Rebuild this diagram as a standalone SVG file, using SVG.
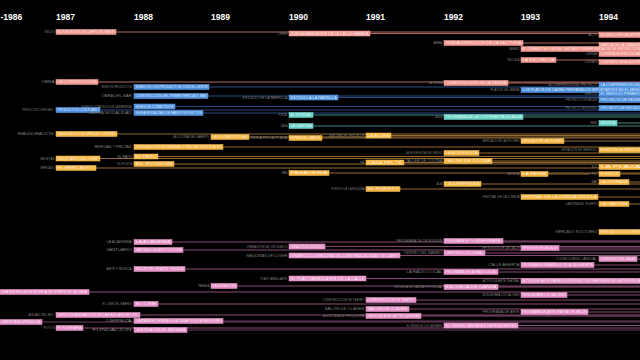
<svg xmlns="http://www.w3.org/2000/svg" width="640" height="360" viewBox="0 0 640 360">
<style>
.yr{font-family:"Liberation Sans",Arial,sans-serif;font-weight:bold;font-size:8.5px;fill:#fff}
.t{font-family:"Liberation Sans",Arial,sans-serif;font-size:3.2px;fill:#fff;fill-opacity:.85}
.lb{font-family:"Liberation Sans",Arial,sans-serif;font-size:2.6px;fill:#808080;text-anchor:end}
.bS{fill:#f2928a;stroke:#f8b4ac;stroke-width:.5}
.bB{fill:#4a8fe0;stroke:#6aa8ee;stroke-width:.5}
.bT{fill:#62d2c6;stroke:#8ae4da;stroke-width:.5}
.bO{fill:#f7b23b;stroke:#fcc866;stroke-width:.5}
.bP{fill:#e68cc6;stroke:#f0aad6;stroke-width:.5}
.lS{stroke:#b06660;stroke-width:1}
.lB{stroke:#284a82;stroke-width:1}
.lT{stroke:#3e8a85;stroke-width:1}
.lO{stroke:#946a32;stroke-width:1}
.lP{stroke:#884b75;stroke-width:1}
</style>
<rect width="640" height="360" fill="#000"/>
<g id="years">
<text class="yr" x="0.5" y="20">-1986</text>
<text class="yr" x="56" y="20">1987</text>
<text class="yr" x="134" y="20">1988</text>
<text class="yr" x="211" y="20">1989</text>
<text class="yr" x="289" y="20">1990</text>
<text class="yr" x="366" y="20">1991</text>
<text class="yr" x="444" y="20">1992</text>
<text class="yr" x="521" y="20">1993</text>
<text class="yr" x="599" y="20">1994</text>
</g>
<g id="connectors">
<line class="lS" x1="116" y1="32" x2="640" y2="32"/>
<line class="lS" x1="370" y1="33.5" x2="640" y2="33.5"/>
<line class="lS" x1="523" y1="43" x2="599" y2="43"/>
<line class="lS" x1="556" y1="60" x2="599" y2="60"/>
<line class="lS" x1="98" y1="82" x2="640" y2="82"/>
<line class="lS" x1="508" y1="83" x2="640" y2="83"/>
<line class="lB" x1="209" y1="87" x2="640" y2="87"/>
<line class="lB" x1="208" y1="96" x2="640" y2="96"/>
<line class="lB" x1="338" y1="97.5" x2="640" y2="97.5"/>
<line class="lB" x1="175" y1="106.5" x2="640" y2="106.5"/>
<line class="lB" x1="100" y1="110" x2="640" y2="110"/>
<line class="lB" x1="203" y1="113" x2="640" y2="113"/>
<line class="lT" x1="313" y1="115" x2="640" y2="115"/>
<line class="lT" x1="523" y1="117" x2="640" y2="117"/>
<line class="lT" x1="313" y1="126" x2="640" y2="126"/>
<line class="lT" x1="617" y1="123" x2="640" y2="123"/>
<line class="lO" x1="117" y1="134" x2="640" y2="134" stroke-width="1.6"/>
<line class="lO" x1="391" y1="135.5" x2="640" y2="135.5"/>
<line class="lO" x1="249" y1="137" x2="640" y2="137"/>
<line class="lO" x1="322" y1="138" x2="640" y2="138"/>
<line class="lO" x1="564" y1="141" x2="640" y2="141"/>
<line class="lO" x1="223" y1="147" x2="640" y2="147"/>
<line class="lO" x1="479" y1="153" x2="640" y2="153"/>
<line class="lO" x1="158" y1="156.5" x2="640" y2="156.5"/>
<line class="lO" x1="100" y1="158.5" x2="640" y2="158.5"/>
<line class="lO" x1="492" y1="161" x2="640" y2="161"/>
<line class="lO" x1="404" y1="162.5" x2="640" y2="162.5"/>
<line class="lO" x1="174" y1="164" x2="640" y2="164"/>
<line class="lO" x1="96" y1="168" x2="640" y2="168"/>
<line class="lO" x1="329" y1="173" x2="640" y2="173"/>
<line class="lO" x1="548" y1="174" x2="590" y2="174"/>
<line class="lO" x1="620" y1="174" x2="640" y2="174"/>
<line class="lO" x1="629" y1="182" x2="640" y2="182"/>
<line class="lO" x1="481" y1="184" x2="640" y2="184"/>
<line class="lO" x1="400" y1="189" x2="640" y2="189"/>
<line class="lO" x1="598" y1="197" x2="640" y2="197"/>
<line class="lO" x1="629" y1="204" x2="640" y2="204"/>
<line class="lP" x1="503" y1="241" x2="640" y2="241"/>
<line class="lP" x1="172" y1="242" x2="640" y2="242"/>
<line class="lP" x1="325" y1="246.5" x2="640" y2="246.5"/>
<line class="lP" x1="559" y1="248" x2="640" y2="248"/>
<line class="lP" x1="183" y1="250" x2="640" y2="250"/>
<line class="lP" x1="485" y1="253" x2="640" y2="253"/>
<line class="lP" x1="400" y1="255.5" x2="640" y2="255.5"/>
<line class="lP" x1="637" y1="259" x2="640" y2="259"/>
<line class="lP" x1="594" y1="265" x2="640" y2="265"/>
<line class="lP" x1="185" y1="269" x2="640" y2="269"/>
<line class="lP" x1="498" y1="272" x2="640" y2="272"/>
<line class="lP" x1="366" y1="278.5" x2="640" y2="278.5"/>
<line class="lP" x1="237" y1="286" x2="640" y2="286"/>
<line class="lP" x1="498" y1="287" x2="640" y2="287"/>
<line class="lP" x1="89" y1="292" x2="640" y2="292"/>
<line class="lP" x1="567" y1="295" x2="640" y2="295"/>
<line class="lP" x1="416" y1="300" x2="640" y2="300"/>
<line class="lP" x1="158" y1="304" x2="640" y2="304"/>
<line class="lP" x1="409" y1="309" x2="640" y2="309"/>
<line class="lP" x1="588" y1="312" x2="640" y2="312"/>
<line class="lP" x1="140" y1="315" x2="640" y2="315"/>
<line class="lP" x1="421" y1="316" x2="640" y2="316"/>
<line class="lP" x1="223" y1="321" x2="640" y2="321" stroke-width="1.6" stroke-opacity=".8"/>
<line class="lP" x1="42" y1="322" x2="640" y2="322" stroke-width="1.6" stroke-opacity=".8"/>
<line class="lP" x1="518" y1="325.5" x2="640" y2="325.5"/>
<line class="lP" x1="83" y1="328" x2="640" y2="328"/>
<line class="lP" x1="187" y1="330" x2="640" y2="330" stroke-width="1.6" stroke-opacity=".8"/>
</g>
<g id="n1"><text class="lb" x="54.5" y="33" lengthAdjust="spacingAndGlyphs" textLength="10">INICIO</text><rect class="bS" x="56" y="29.5" width="60" height="5"/><text class="t" x="57.5" y="33.1" lengthAdjust="spacingAndGlyphs" textLength="57">AUTORIZACIÓN DEL CAFÉ CON SABOR</text></g>
<g id="n2"><text class="lb" x="287.5" y="34.5" lengthAdjust="spacingAndGlyphs" textLength="10">CIERRE</text><rect class="bS" x="289" y="31" width="81" height="5"/><text class="t" x="290.5" y="34.6" lengthAdjust="spacingAndGlyphs" textLength="78">RUEDA MANDARINE DE LA CALLE HABANA</text></g>
<g id="n3"><text class="lb" x="597.5" y="36" lengthAdjust="spacingAndGlyphs" textLength="9">ACTO</text><rect class="bS" x="599" y="32.5" width="41" height="5"/><text class="t" x="600.5" y="36.1" lengthAdjust="spacingAndGlyphs" textLength="40">ACUERDO DE LAS ARTES</text></g>
<g id="n4"><text class="lb" x="442.5" y="44" lengthAdjust="spacingAndGlyphs" textLength="9">ABRE</text><rect class="bS" x="444" y="40.5" width="79" height="5"/><text class="t" x="445.5" y="44.1" lengthAdjust="spacingAndGlyphs" textLength="76">NUEVA DIRECCIÓN DE LA FACTORÍA</text></g>
<g id="n5"><rect class="bS" x="599" y="42.5" width="41" height="5"/><text class="t" x="600.5" y="46.1" lengthAdjust="spacingAndGlyphs" textLength="40">MARCA DE LA CASA EN</text></g>
<g id="n6"><text class="lb" x="519.5" y="50" lengthAdjust="spacingAndGlyphs" textLength="11">CAMBIO</text><rect class="bS" x="521" y="46.5" width="119" height="5"/><text class="t" x="522.5" y="50.1" lengthAdjust="spacingAndGlyphs" textLength="118">EL CUBANO SE VUELVE CERCANO PRIMER ESCALÓN DE PRODUCCIÓN</text></g>
<g id="n7"><text class="lb" x="597.5" y="55" lengthAdjust="spacingAndGlyphs" textLength="12">CUENTAS</text><rect class="bS" x="599" y="51.5" width="41" height="5"/><text class="t" x="600.5" y="55.1" lengthAdjust="spacingAndGlyphs" textLength="40">CUENTA DE ESCUELAS</text></g>
<g id="n8"><text class="lb" x="519.5" y="61" lengthAdjust="spacingAndGlyphs" textLength="12">ESCUELA</text><rect class="bS" x="521" y="57.5" width="35" height="5"/><text class="t" x="522.5" y="61.1" lengthAdjust="spacingAndGlyphs" textLength="32">LA ESCUELITA</text></g>
<g id="n9"><text class="lb" x="597.5" y="63" lengthAdjust="spacingAndGlyphs" textLength="13">CONTRATO</text><rect class="bS" x="599" y="59.5" width="41" height="5"/><text class="t" x="600.5" y="63.1" lengthAdjust="spacingAndGlyphs" textLength="40">CONTRATO DE ALQUILER</text></g>
<g id="n10"><text class="lb" x="54.5" y="83" lengthAdjust="spacingAndGlyphs" textLength="13">OBRA</text><rect class="bS" x="56" y="79.5" width="42" height="5"/><text class="t" x="57.5" y="83.1" lengthAdjust="spacingAndGlyphs" textLength="39">LA CONSTRUCCIÓN</text></g>
<g id="n11"><text class="lb" x="442.5" y="84" lengthAdjust="spacingAndGlyphs" textLength="14">LA TIENDA</text><rect class="bS" x="444" y="80.5" width="64" height="5"/><text class="t" x="445.5" y="84.1" lengthAdjust="spacingAndGlyphs" textLength="61">CONSTRUCCIÓN DE LA TIENDA</text></g>
<g id="n12"><text class="lb" x="597.5" y="86" lengthAdjust="spacingAndGlyphs" textLength="50">LA COMPRENSIÓN DEL PROYECTO</text><rect class="bB" x="599" y="82.5" width="41" height="5"/><text class="t" x="600.5" y="86.1" lengthAdjust="spacingAndGlyphs" textLength="40">LA COMPRENSIÓN DEL</text></g>
<g id="n13"><text class="lb" x="131.5" y="88" lengthAdjust="spacingAndGlyphs" textLength="30">NUEVOS PRODUCTOS</text><rect class="bB" x="134" y="84.5" width="75" height="5"/><text class="t" x="135.5" y="88.1" lengthAdjust="spacingAndGlyphs" textLength="72">NUEVOS LOS PRODUCTOS CON EL LENTE</text></g>
<g id="n14"><text class="lb" x="519.5" y="91" lengthAdjust="spacingAndGlyphs" textLength="29">PLATOS DE CARNE</text><rect class="bB" x="521" y="87.5" width="119" height="5"/><text class="t" x="522.5" y="91.1" lengthAdjust="spacingAndGlyphs" textLength="118">LOS PLATOS DE CARNE PREPARADOS IMPORTANTES EN EL MENÚ</text></g>
<g id="n15"><text class="lb" x="597.5" y="95" lengthAdjust="spacingAndGlyphs" textLength="13">SERVICIO</text><rect class="bB" x="599" y="91.5" width="41" height="5"/><text class="t" x="600.5" y="95.1" lengthAdjust="spacingAndGlyphs" textLength="40">EL SERVICIO PRIMERO</text></g>
<g id="n16"><text class="lb" x="131.5" y="97" lengthAdjust="spacingAndGlyphs" textLength="30">OBRA DEL BAR</text><rect class="bB" x="134" y="93.5" width="74" height="5"/><text class="t" x="135.5" y="97.1" lengthAdjust="spacingAndGlyphs" textLength="71">CONSTRUCCIÓN DEL PRIMER MERCADO BAR</text></g>
<g id="n17"><text class="lb" x="287.5" y="98.5" lengthAdjust="spacingAndGlyphs" textLength="45">ESTUDIO DE LA PARRILLA</text><rect class="bB" x="289" y="95" width="49" height="5"/><text class="t" x="290.5" y="98.6" lengthAdjust="spacingAndGlyphs" textLength="46">ESTUDIO A LA PARRILLA</text></g>
<g id="n18"><text class="lb" x="597.5" y="101" lengthAdjust="spacingAndGlyphs" textLength="32">PROYECTO DE REDES</text><rect class="bB" x="599" y="97.5" width="41" height="5"/><text class="t" x="600.5" y="101.1" lengthAdjust="spacingAndGlyphs" textLength="40">PROYECTO DE REDES</text></g>
<g id="n19"><text class="lb" x="131.5" y="107.5" lengthAdjust="spacingAndGlyphs" textLength="50">NUEVOS COMETIDOS DE LA EMPRESA</text><rect class="bB" x="134" y="104" width="41" height="5"/><text class="t" x="135.5" y="107.6" lengthAdjust="spacingAndGlyphs" textLength="38">NUEVOS COMETIDOS</text></g>
<g id="n20"><text class="lb" x="597.5" y="109" lengthAdjust="spacingAndGlyphs" textLength="32">PROYECTO DE ESTUDIO</text><rect class="bB" x="599" y="105.5" width="41" height="5"/><text class="t" x="600.5" y="109.1" lengthAdjust="spacingAndGlyphs" textLength="40">PROYECTO DE ESTUDIO</text></g>
<g id="n21"><text class="lb" x="53.5" y="111" lengthAdjust="spacingAndGlyphs" textLength="31">PRODUCTOS CON PLANO</text><rect class="bB" x="56" y="107.5" width="44" height="5"/><text class="t" x="57.5" y="111.1" lengthAdjust="spacingAndGlyphs" textLength="41">PRODUCTOS CON PLANO</text></g>
<g id="n22"><text class="lb" x="131.5" y="114" lengthAdjust="spacingAndGlyphs" textLength="43">NUEVA MODALIDAD</text><rect class="bB" x="134" y="110.5" width="69" height="5"/><text class="t" x="135.5" y="114.1" lengthAdjust="spacingAndGlyphs" textLength="66">NUEVA MODALIDAD DE SABOR PRODUCTOS</text></g>
<g id="n23"><text class="lb" x="287.5" y="116" lengthAdjust="spacingAndGlyphs" textLength="9">PORTAL</text><rect class="bT" x="289" y="112.5" width="24" height="5"/><text class="t" x="290.5" y="116.1" lengthAdjust="spacingAndGlyphs" textLength="21">EL PORTAL</text></g>
<g id="n24"><text class="lb" x="442.5" y="118" lengthAdjust="spacingAndGlyphs" textLength="7">AGUA</text><rect class="bT" x="444" y="114.5" width="79" height="5"/><text class="t" x="445.5" y="118.1" lengthAdjust="spacingAndGlyphs" textLength="76">PROGRAMA DE LA COOPERATIVA DE AGUA</text></g>
<g id="n25"><text class="lb" x="287.5" y="127" lengthAdjust="spacingAndGlyphs" textLength="7">CASA</text><rect class="bT" x="289" y="123.5" width="24" height="5"/><text class="t" x="290.5" y="127.1" lengthAdjust="spacingAndGlyphs" textLength="21">LA CASONA</text></g>
<g id="n26"><text class="lb" x="597.5" y="124" lengthAdjust="spacingAndGlyphs" textLength="7">RED</text><rect class="bT" x="599" y="120.5" width="18" height="5"/><text class="t" x="600.5" y="124.1" lengthAdjust="spacingAndGlyphs" textLength="15">REVISTA</text></g>
<g id="n27"><text class="lb" x="53.5" y="135" lengthAdjust="spacingAndGlyphs" textLength="36">INAUGURACIÓN</text><rect class="bO" x="56" y="131.5" width="61" height="5"/><text class="t" x="57.5" y="135.1" lengthAdjust="spacingAndGlyphs" textLength="58">INAUGURACIÓN DEL MERCADO CENTRAL</text></g>
<g id="n28"><text class="lb" x="208.5" y="138" lengthAdjust="spacingAndGlyphs" textLength="36">LA COCINA DEL BARRIO</text><rect class="bO" x="211" y="134.5" width="38" height="5"/><text class="t" x="212.5" y="138.1" lengthAdjust="spacingAndGlyphs" textLength="35">LA COCINA POPULAR</text></g>
<g id="n29"><text class="lb" x="287.5" y="139" lengthAdjust="spacingAndGlyphs" textLength="37">FERIA EN LA PLAZA</text><rect class="bO" x="289" y="135.5" width="33" height="5"/><text class="t" x="290.5" y="139.1" lengthAdjust="spacingAndGlyphs" textLength="30">FERIA DEL SABOR</text></g>
<g id="n30"><text class="lb" x="364.5" y="136.5" lengthAdjust="spacingAndGlyphs" textLength="36">LA ALDEA DEL PESCADOR</text><rect class="bO" x="366" y="133" width="25" height="5"/><text class="t" x="367.5" y="136.6" lengthAdjust="spacingAndGlyphs" textLength="22">LA ALDEA</text></g>
<g id="n31"><text class="lb" x="519.5" y="142" lengthAdjust="spacingAndGlyphs" textLength="37">MERCADO DE LAS FLORES</text><rect class="bO" x="521" y="138.5" width="43" height="5"/><text class="t" x="522.5" y="142.1" lengthAdjust="spacingAndGlyphs" textLength="40">MERCADO DE LAS FLORES</text></g>
<g id="n32"><text class="lb" x="131.5" y="148" lengthAdjust="spacingAndGlyphs" textLength="37">BEBIDAS Y FRUTAS</text><rect class="bO" x="134" y="144.5" width="89" height="5"/><text class="t" x="135.5" y="148.1" lengthAdjust="spacingAndGlyphs" textLength="86">DISTRIBUCIÓN DE BEBIDAS Y FRUTAS TROPICALES</text></g>
<g id="n33"><text class="lb" x="597.5" y="151" lengthAdjust="spacingAndGlyphs" textLength="36">ESTACIÓN DE SERVICIO</text><rect class="bO" x="599" y="147.5" width="41" height="5"/><text class="t" x="600.5" y="151.1" lengthAdjust="spacingAndGlyphs" textLength="40">ESTACIÓN DE SERVICIO</text></g>
<g id="n34"><text class="lb" x="442.5" y="154" lengthAdjust="spacingAndGlyphs" textLength="37">LA BODEGUITA DEL MEDIO</text><rect class="bO" x="444" y="150.5" width="35" height="5"/><text class="t" x="445.5" y="154.1" lengthAdjust="spacingAndGlyphs" textLength="32">LA BODEGUITA</text></g>
<g id="n35"><text class="lb" x="132.5" y="157.5" lengthAdjust="spacingAndGlyphs" textLength="15">EL PATIO</text><rect class="bO" x="134" y="154" width="24" height="5"/><text class="t" x="135.5" y="157.6" lengthAdjust="spacingAndGlyphs" textLength="21">EL PATIO</text></g>
<g id="n36"><text class="lb" x="54.5" y="159.5" lengthAdjust="spacingAndGlyphs" textLength="14">RECETAS</text><rect class="bO" x="56" y="156" width="44" height="5"/><text class="t" x="57.5" y="159.6" lengthAdjust="spacingAndGlyphs" textLength="41">RECETARIO DEL CHEF</text></g>
<g id="n37"><text class="lb" x="442.5" y="162" lengthAdjust="spacingAndGlyphs" textLength="37">TALLER DE COCINA</text><rect class="bO" x="444" y="158.5" width="48" height="5"/><text class="t" x="445.5" y="162.1" lengthAdjust="spacingAndGlyphs" textLength="45">TALLER DE COCINA</text></g>
<g id="n38"><text class="lb" x="364.5" y="163.5" lengthAdjust="spacingAndGlyphs" textLength="5">TÉ</text><rect class="bO" x="366" y="160" width="38" height="5"/><text class="t" x="367.5" y="163.6" lengthAdjust="spacingAndGlyphs" textLength="35">CASA DEL TÉ</text></g>
<g id="n39"><text class="lb" x="132.5" y="165" lengthAdjust="spacingAndGlyphs" textLength="15">EL FOGÓN</text><rect class="bO" x="134" y="161.5" width="40" height="5"/><text class="t" x="135.5" y="165.1" lengthAdjust="spacingAndGlyphs" textLength="37">EL FOGÓN</text></g>
<g id="n40"><text class="lb" x="597.5" y="168" lengthAdjust="spacingAndGlyphs" textLength="6">SOL</text><rect class="bO" x="599" y="164.5" width="41" height="5"/><text class="t" x="600.5" y="168.1" lengthAdjust="spacingAndGlyphs" textLength="40">LA PLAZA</text></g>
<g id="n41"><text class="lb" x="54.5" y="169" lengthAdjust="spacingAndGlyphs" textLength="14">MERCADO</text><rect class="bO" x="56" y="165.5" width="40" height="5"/><text class="t" x="57.5" y="169.1" lengthAdjust="spacingAndGlyphs" textLength="37">EL MERCADITO</text></g>
<g id="n42"><text class="lb" x="287.5" y="174" lengthAdjust="spacingAndGlyphs" textLength="6">PAN</text><rect class="bO" x="289" y="170.5" width="40" height="5"/><text class="t" x="290.5" y="174.1" lengthAdjust="spacingAndGlyphs" textLength="37">PANADERÍA</text></g>
<g id="n43"><text class="lb" x="519.5" y="175" lengthAdjust="spacingAndGlyphs" textLength="13">LA FERIA</text><rect class="bO" x="521" y="171.5" width="27" height="5"/><text class="t" x="522.5" y="175.1" lengthAdjust="spacingAndGlyphs" textLength="24">LA FERIA</text></g>
<g id="n44"><text class="lb" x="597.5" y="175" lengthAdjust="spacingAndGlyphs" textLength="6">RÍO</text><rect class="bO" x="599" y="171.5" width="21" height="5"/><text class="t" x="600.5" y="175.1" lengthAdjust="spacingAndGlyphs" textLength="18">EL RINCÓN</text></g>
<g id="n45"><text class="lb" x="597.5" y="183" lengthAdjust="spacingAndGlyphs" textLength="6">MAR</text><rect class="bO" x="599" y="179.5" width="30" height="5"/><text class="t" x="600.5" y="183.1" lengthAdjust="spacingAndGlyphs" textLength="27">LA TERRAZA</text></g>
<g id="n46"><text class="lb" x="442.5" y="185" lengthAdjust="spacingAndGlyphs" textLength="6">ALM</text><rect class="bO" x="444" y="181.5" width="37" height="5"/><text class="t" x="445.5" y="185.1" lengthAdjust="spacingAndGlyphs" textLength="34">LA DESPENSA</text></g>
<g id="n47"><text class="lb" x="364.5" y="190" lengthAdjust="spacingAndGlyphs" textLength="33">PUESTO DE LA ESQUINA</text><rect class="bO" x="366" y="186.5" width="34" height="5"/><text class="t" x="367.5" y="190.1" lengthAdjust="spacingAndGlyphs" textLength="31">EL PUESTO</text></g>
<g id="n48"><text class="lb" x="519.5" y="198" lengthAdjust="spacingAndGlyphs" textLength="37">FESTIVAL DE LA COMIDA</text><rect class="bO" x="521" y="194.5" width="77" height="5"/><text class="t" x="522.5" y="198.1" lengthAdjust="spacingAndGlyphs" textLength="74">FESTIVAL DE LA COMIDA CRIOLLA</text></g>
<g id="n49"><text class="lb" x="597.5" y="205" lengthAdjust="spacingAndGlyphs" textLength="32">CANTINA DEL PUERTO</text><rect class="bO" x="599" y="201.5" width="30" height="5"/><text class="t" x="600.5" y="205.1" lengthAdjust="spacingAndGlyphs" textLength="27">LA CANTINA</text></g>
<g id="n50"><text class="lb" x="597.5" y="233" lengthAdjust="spacingAndGlyphs" textLength="42">MERCADO NOCTURNO</text><rect class="bO" x="599" y="229.5" width="41" height="5"/><text class="t" x="600.5" y="233.1" lengthAdjust="spacingAndGlyphs" textLength="40">MERCADO NOCTURNO</text></g>
<g id="n51"><text class="lb" x="442.5" y="242" lengthAdjust="spacingAndGlyphs" textLength="46">PROGRAMA DE TELEVISIÓN</text><rect class="bP" x="444" y="238.5" width="59" height="5"/><text class="t" x="445.5" y="242.1" lengthAdjust="spacingAndGlyphs" textLength="56">PROGRAMA DE TV ORDEN SEMANAL</text></g>
<g id="n52"><text class="lb" x="131.5" y="243" lengthAdjust="spacingAndGlyphs" textLength="25">LA ACADEMIA</text><rect class="bP" x="134" y="239.5" width="38" height="5"/><text class="t" x="135.5" y="243.1" lengthAdjust="spacingAndGlyphs" textLength="35">LA ACADEMIA</text></g>
<g id="n53"><text class="lb" x="287.5" y="247.5" lengthAdjust="spacingAndGlyphs" textLength="41">CREACIÓN DE UN SUELO</text><rect class="bP" x="289" y="244" width="36" height="5"/><text class="t" x="290.5" y="247.6" lengthAdjust="spacingAndGlyphs" textLength="33">CREACIÓN DE UN SUELO</text></g>
<g id="n54"><text class="lb" x="519.5" y="249" lengthAdjust="spacingAndGlyphs" textLength="37">EPISODIOS DE LA CALLE</text><rect class="bP" x="521" y="245.5" width="38" height="5"/><text class="t" x="522.5" y="249.1" lengthAdjust="spacingAndGlyphs" textLength="35">EPISODIOS DE LA CALLE</text></g>
<g id="n55"><text class="lb" x="131.5" y="251" lengthAdjust="spacingAndGlyphs" textLength="25">SANTUARIO</text><rect class="bP" x="134" y="247.5" width="49" height="5"/><text class="t" x="135.5" y="251.1" lengthAdjust="spacingAndGlyphs" textLength="46">SANTUARIO DE ARTE Y CULTURA</text></g>
<g id="n56"><text class="lb" x="442.5" y="254" lengthAdjust="spacingAndGlyphs" textLength="39">CENTRO DEL BARRIO</text><rect class="bP" x="444" y="250.5" width="41" height="5"/><text class="t" x="445.5" y="254.1" lengthAdjust="spacingAndGlyphs" textLength="38">CENTRO CULTURAL</text></g>
<g id="n57"><text class="lb" x="287.5" y="256.5" lengthAdjust="spacingAndGlyphs" textLength="41">MÁQUINAS DE COSER</text><rect class="bP" x="289" y="253" width="111" height="5"/><text class="t" x="290.5" y="256.6" lengthAdjust="spacingAndGlyphs" textLength="108">DESARROLLO DE MÁQUINAS DE COSER PARA LA CIUDAD Y EL CAMPO</text></g>
<g id="n58"><text class="lb" x="597.5" y="260" lengthAdjust="spacingAndGlyphs" textLength="41">CONCURSO ANUAL</text><rect class="bP" x="599" y="256.5" width="38" height="5"/><text class="t" x="600.5" y="260.1" lengthAdjust="spacingAndGlyphs" textLength="35">CONCURSO DEL GALÁN</text></g>
<g id="n59"><text class="lb" x="519.5" y="266" lengthAdjust="spacingAndGlyphs" textLength="31">CALLE ABIERTA</text><rect class="bP" x="521" y="262.5" width="73" height="5"/><text class="t" x="522.5" y="266.1" lengthAdjust="spacingAndGlyphs" textLength="70">PROGRAMA DE DESARROLLO DE LA CALLE ABIERTA</text></g>
<g id="n60"><text class="lb" x="131.5" y="270" lengthAdjust="spacingAndGlyphs" textLength="25">ARTE Y MÚSICA</text><rect class="bP" x="134" y="266.5" width="51" height="5"/><text class="t" x="135.5" y="270.1" lengthAdjust="spacingAndGlyphs" textLength="48">ENCUENTRO DE ARTE Y MÚSICA</text></g>
<g id="n61"><text class="lb" x="442.5" y="273" lengthAdjust="spacingAndGlyphs" textLength="36">LA RADIO LOCAL</text><rect class="bP" x="444" y="269.5" width="54" height="5"/><text class="t" x="445.5" y="273.1" lengthAdjust="spacingAndGlyphs" textLength="51">PROGRAMA DE LA RADIO LOCAL</text></g>
<g id="n62"><text class="lb" x="287.5" y="279.5" lengthAdjust="spacingAndGlyphs" textLength="27">PLATO AMBULANTE</text><rect class="bP" x="289" y="276" width="77" height="5"/><text class="t" x="290.5" y="279.6" lengthAdjust="spacingAndGlyphs" textLength="74">EL PLATO AMBULANTE DE LA CALLE</text></g>
<g id="n63"><text class="lb" x="519.5" y="282" lengthAdjust="spacingAndGlyphs" textLength="37">ACTOS DE ARTE TEATRAL</text><rect class="bP" x="521" y="278.5" width="119" height="5"/><text class="t" x="522.5" y="282.1" lengthAdjust="spacingAndGlyphs" textLength="118">ACTOS DE ARTE PARA LOS PROYECTOS TEATRALES DE LA PROVINCIA</text></g>
<g id="n64"><text class="lb" x="209.5" y="287" lengthAdjust="spacingAndGlyphs" textLength="11">PARADA</text><rect class="bP" x="211" y="283.5" width="26" height="5"/><text class="t" x="212.5" y="287.1" lengthAdjust="spacingAndGlyphs" textLength="23">LA ESTACIÓN</text></g>
<g id="n65"><text class="lb" x="442.5" y="288" lengthAdjust="spacingAndGlyphs" textLength="48">ESCUELA DE DANZA PROVINCIAL</text><rect class="bP" x="444" y="284.5" width="54" height="5"/><text class="t" x="445.5" y="288.1" lengthAdjust="spacingAndGlyphs" textLength="51">ESCUELA DE DANZA</text></g>
<g id="n66"><rect class="bP" x="-2" y="289.5" width="91" height="5"/><text class="t" x="1" y="293.1" lengthAdjust="spacingAndGlyphs" textLength="86">UNA ESTRELLA DE NOVELA DE STREIN DE LA CASA</text></g>
<g id="n67"><text class="lb" x="519.5" y="296" lengthAdjust="spacingAndGlyphs" textLength="37">MÚSICA PARA LOS SALONES</text><rect class="bP" x="521" y="292.5" width="46" height="5"/><text class="t" x="522.5" y="296.1" lengthAdjust="spacingAndGlyphs" textLength="43">MÚSICA PARA LOS SALONES</text></g>
<g id="n68"><text class="lb" x="364.5" y="301" lengthAdjust="spacingAndGlyphs" textLength="42">CONSTRUCCIÓN DE TEATRO</text><rect class="bP" x="366" y="297.5" width="50" height="5"/><text class="t" x="367.5" y="301.1" lengthAdjust="spacingAndGlyphs" textLength="47">CONSTRUCCIÓN DE TEATRO</text></g>
<g id="n69"><text class="lb" x="131.5" y="305" lengthAdjust="spacingAndGlyphs" textLength="29">EL CINE DEL BARRIO</text><rect class="bP" x="134" y="301.5" width="24" height="5"/><text class="t" x="135.5" y="305.1" lengthAdjust="spacingAndGlyphs" textLength="21">EL CINE</text></g>
<g id="n70"><text class="lb" x="364.5" y="310" lengthAdjust="spacingAndGlyphs" textLength="40">SALÓN DE CLASES</text><rect class="bP" x="366" y="306.5" width="43" height="5"/><text class="t" x="367.5" y="310.1" lengthAdjust="spacingAndGlyphs" textLength="40">SALÓN DE CLASES</text></g>
<g id="n71"><text class="lb" x="519.5" y="313" lengthAdjust="spacingAndGlyphs" textLength="37">PROGRAMA DE ARTE</text><rect class="bP" x="521" y="309.5" width="67" height="5"/><text class="t" x="522.5" y="313.1" lengthAdjust="spacingAndGlyphs" textLength="64">PROGRAMA DE ARTE TEATRAL DE SALÓN</text></g>
<g id="n72"><text class="lb" x="53.5" y="316" lengthAdjust="spacingAndGlyphs" textLength="25">AGUAS DEL RÍO</text><rect class="bP" x="56" y="312.5" width="84" height="5"/><text class="t" x="57.5" y="316.1" lengthAdjust="spacingAndGlyphs" textLength="81">DESCONTAMINACIÓN DE LAS AGUAS DEL RÍO</text></g>
<g id="n73"><text class="lb" x="364.5" y="317" lengthAdjust="spacingAndGlyphs" textLength="42">LA ESCUELA DE PELUQUERÍA</text><rect class="bP" x="366" y="313.5" width="55" height="5"/><text class="t" x="367.5" y="317.1" lengthAdjust="spacingAndGlyphs" textLength="52">LA ESCUELA DE LAS PELUQUERÍAS</text></g>
<g id="n74"><text class="lb" x="131.5" y="322" lengthAdjust="spacingAndGlyphs" textLength="25">LIMPIEZA</text><rect class="bP" x="134" y="318.5" width="89" height="5"/><text class="t" x="135.5" y="322.1" lengthAdjust="spacingAndGlyphs" textLength="86">CAMPAÑA DE LIMPIEZA DE LA CIUDAD Y SUS ALREDEDORES</text></g>
<g id="n75"><rect class="bP" x="-2" y="319.5" width="44" height="5"/><text class="t" x="1" y="323.1" lengthAdjust="spacingAndGlyphs" textLength="39">UN ARTE PARA LA PEDAGOGÍA</text></g>
<g id="n76"><text class="lb" x="442.5" y="326.5" lengthAdjust="spacingAndGlyphs" textLength="36">EL ORDEN DE LOS CANTARES</text><rect class="bP" x="444" y="323" width="74" height="5"/><text class="t" x="445.5" y="326.6" lengthAdjust="spacingAndGlyphs" textLength="71">EL ORDEN CANTARES DEPENDIENTES</text></g>
<g id="n77"><text class="lb" x="54.5" y="329" lengthAdjust="spacingAndGlyphs" textLength="11">FOTOS</text><rect class="bP" x="56" y="325.5" width="27" height="5"/><text class="t" x="57.5" y="329.1" lengthAdjust="spacingAndGlyphs" textLength="24">FOTOGRAFÍA</text></g>
<g id="n78"><text class="lb" x="131.5" y="331" lengthAdjust="spacingAndGlyphs" textLength="39">FUNDACIÓN</text><rect class="bP" x="134" y="327.5" width="53" height="5"/><text class="t" x="135.5" y="331.1" lengthAdjust="spacingAndGlyphs" textLength="50">LA FUNDACIÓN DEL FANTASMA</text></g>
</svg>
